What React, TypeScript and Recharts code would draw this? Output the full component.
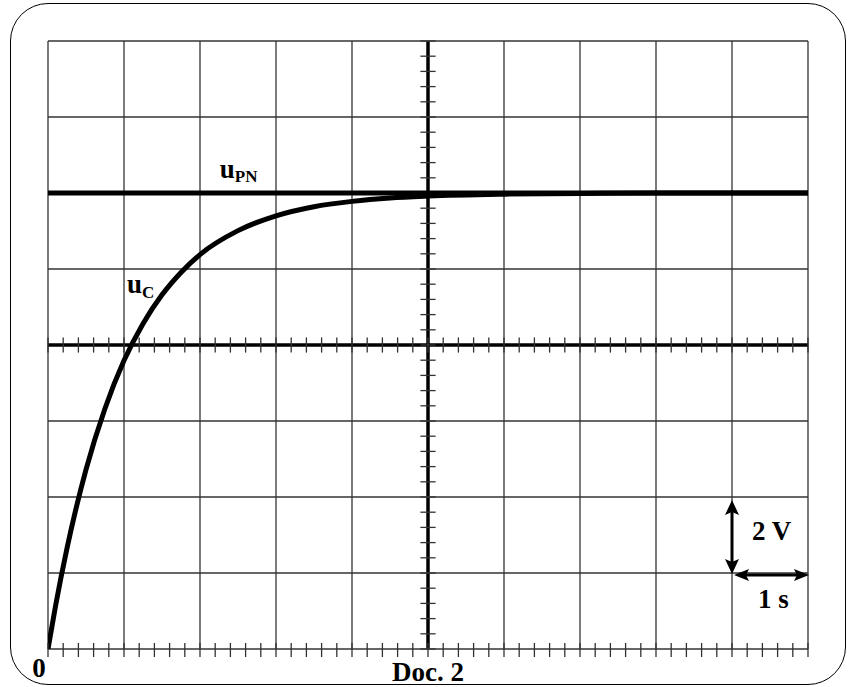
import { LineChart, Line, XAxis, YAxis, ReferenceLine, ReferenceDot } from 'recharts';

// oscilloscope screen: 10 div x 8 div, 1 s/div and 2 V/div
const T_GRID = [0, 1, 2, 3, 4, 5, 6, 7, 8, 9, 10];
const V_GRID = [0, 2, 4, 6, 8, 10, 12, 14, 16];
const T_CENTER = 5;
const V_CENTER = 8;

// sub-division marks (1/5 div)
const T_MINOR = Array.from({ length: 51 }, (_, k) => k / 5);
const V_MINOR = Array.from({ length: 41 }, (_, k) => (k * 2) / 5);

// u_C charging curve
const UC_T = [0, 0.1, 0.25, 0.5, 0.75, 1, 1.25, 1.5, 1.75, 2, 2.5, 3, 3.5, 4, 4.5, 5, 6, 7, 8, 9, 10];
const UC_V = [0, 1.14, 2.65, 4.72, 6.33, 7.59, 8.56, 9.32, 9.91, 10.38, 11.01, 11.4, 11.64, 11.78, 11.87, 11.92, 11.97, 11.99, 12, 12, 12];

// u_PN generator voltage
const UPN_T = [0, 10];
const UPN_V = [12, 12];

// scale arrows: 2 V vertical, 1 s horizontal
const SCALE_V = [{ x: 9, y: 4 }, { x: 9, y: 2 }];
const SCALE_T = [{ x: 9, y: 2 }, { x: 10, y: 2 }];

const FONT = '"Liberation Serif", "Times New Roman", serif';
const GRID = '#333';

const ucData = UC_T.map((t, i) => ({ t, u: UC_V[i] }));
const upnData = UPN_T.map((t, i) => ({ t, u: UPN_V[i] }));

const AXIS_TEXT: Record<number, { text: string; dx: number; dy: number }> = {
  0: { text: '0', dx: -9, dy: 20 },
  5: { text: 'Doc. 2', dx: 0, dy: 24 },
};

function BottomTick(props: any) {
  const { x, y, payload } = props;
  const lbl = AXIS_TEXT[payload.value];
  return (
    <g>
      <line x1={x} x2={x} y1={y - 14} y2={y} stroke={GRID} strokeWidth={1.3} />
      {lbl && (
        <text x={x + lbl.dx} y={y + lbl.dy} textAnchor="middle" fontFamily={FONT}
          fontWeight="bold" fontSize={27} fill="#000">
          {lbl.text}
        </text>
      )}
    </g>
  );
}

function head(tx: number, ty: number, dx: number, dy: number, L = 15, W = 7) {
  // arrow head pointing along (dx, dy)
  const bx = tx - dx * L, by = ty - dy * L;
  const nx = tx - dx * (L - 3), ny = ty - dy * (L - 3);
  return `${tx},${ty} ${bx - dy * W},${by + dx * W} ${nx},${ny} ${bx + dy * W},${by - dx * W}`;
}

function VArrow(props: any) {
  const { x1, y1, y2 } = props;
  const top = Math.min(y1, y2) + 3, bot = Math.max(y1, y2) + 1;
  return (
    <g>
      <line x1={x1} x2={x1} y1={top + 10} y2={bot - 10} stroke="#000" strokeWidth={3} />
      <polygon points={head(x1, top, 0, -1)} fill="#000" />
      <polygon points={head(x1, bot, 0, 1)} fill="#000" />
      <text x={x1 + 20} y={(top + bot) / 2 + 3} fontFamily={FONT} fontWeight="bold" fontSize={27} fill="#000">
        2 V
      </text>
    </g>
  );
}

function HArrow(props: any) {
  const { x1, x2, y1 } = props;
  const left = Math.min(x1, x2) + 2, right = Math.max(x1, x2) + 1;
  const y = y1 + 2;
  return (
    <g>
      <line x1={left + 10} x2={right - 10} y1={y} y2={y} stroke="#000" strokeWidth={3} />
      <polygon points={head(left, y, -1, 0, 15, 6)} fill="#000" />
      <polygon points={head(right, y, 1, 0, 15, 6)} fill="#000" />
      <text x={(left + right) / 2 + 2} y={y + 33} textAnchor="middle" fontFamily={FONT}
        fontWeight="bold" fontSize={27} fill="#000">
        1 s
      </text>
    </g>
  );
}

function SubLabel(main: string, sub: string, drop: number) {
  return (props: any) => (
    <text x={props.cx} y={props.cy} fontFamily={FONT} fontWeight="bold" fontSize={27} fill="#000">
      {main}
      <tspan fontSize={17} dy={drop}>{sub}</tspan>
    </text>
  );
}

export default function App() {
  return (
    <div style={{ position: 'absolute', left: 0, top: 0, width: 853, height: 687, background: '#fff' }}>
      <div
        style={{
          position: 'absolute', left: 10, top: 3, width: 836, height: 682,
          boxSizing: 'border-box', border: '1.5px solid #000', borderRadius: 38,
        }}
      />
      <div style={{ position: 'absolute', left: 0, top: 0 }}>
        <LineChart width={853} height={687} margin={{ top: 41, right: 45, bottom: 8, left: 48 }}>
          <XAxis
            type="number"
            dataKey="t"
            domain={[0, 10]}
            ticks={T_MINOR}
            interval={0}
            tick={(p: any) => <BottomTick {...p} />}
            tickLine={false}
            axisLine={false}
            tickSize={8}
            tickMargin={0}
            height={30}
            allowDataOverflow
          />
          <YAxis type="number" domain={[0, 16]} hide allowDataOverflow />

          {T_GRID.map(t => (
            <ReferenceLine key={'gt' + t} x={t} stroke={t === T_CENTER ? '#000' : GRID}
              strokeWidth={t === T_CENTER ? 3.5 : 1.3} />
          ))}
          {V_GRID.map(v => (
            <ReferenceLine key={'gv' + v} y={v} stroke={v === V_CENTER ? '#000' : GRID}
              strokeWidth={v === V_CENTER ? 3.5 : 1.3} />
          ))}

          {T_MINOR.map(t => (
            <ReferenceLine key={'mt' + t}
              segment={[{ x: t, y: V_CENTER - 0.2 }, { x: t, y: V_CENTER + 0.2 }]}
              stroke={GRID} strokeWidth={1.3} />
          ))}
          {V_MINOR.map(v => (
            <ReferenceLine key={'mv' + v}
              segment={[{ x: T_CENTER - 0.1, y: v }, { x: T_CENTER + 0.1, y: v }]}
              stroke={GRID} strokeWidth={1.3} />
          ))}

          <Line data={upnData} dataKey="u" type="linear" stroke="#000" strokeWidth={5}
            dot={false} activeDot={false} isAnimationActive={false} />
          <Line data={ucData} dataKey="u" type="monotone" stroke="#000" strokeWidth={5}
            dot={false} activeDot={false} isAnimationActive={false} />

          <ReferenceLine segment={SCALE_V} shape={(p: any) => <VArrow {...p} />} />
          <ReferenceLine segment={SCALE_T} shape={(p: any) => <HArrow {...p} />} />

          <ReferenceDot x={2.26} y={12.39} r={0} shape={SubLabel('u', 'PN', 4)} />
          <ReferenceDot x={1.04} y={9.37} r={0} shape={SubLabel('u', 'C', 5)} />
        </LineChart>
      </div>
    </div>
  );
}
